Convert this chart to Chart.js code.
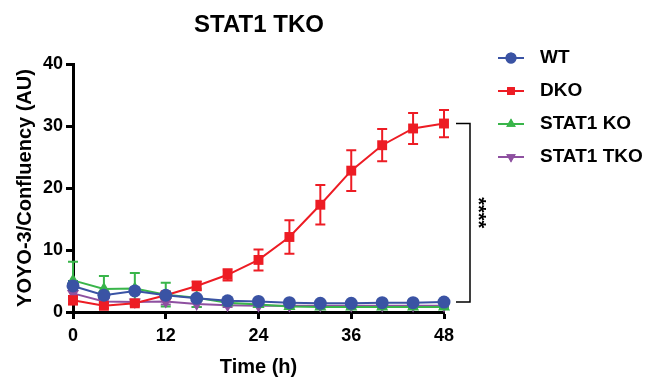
<!DOCTYPE html>
<html>
<head>
<meta charset="utf-8">
<script src="https://cdn.jsdelivr.net/npm/chart.js@4/dist/chart.umd.min.js"></script>
<style>
html,body{margin:0;padding:0;background:#fff;}
#wrap{width:652px;height:377px;position:relative;}
</style>
</head>
<body>
<div id="wrap"><canvas id="c" width="652" height="377"></canvas></div>
<script>
// ---- data ----
const timePoints = [0, 4, 8, 12, 16, 20, 24, 28, 32, 36, 40, 44, 48];
const wtMean      = [4.2, 2.7, 3.4, 2.7, 2.2, 1.8, 1.7, 1.5, 1.4, 1.4, 1.5, 1.5, 1.6];
const wtSD        = [0.8, 0.4, 0.5, 0.5, 0.3, 0.2, 0.2, 0.2, 0.2, 0.2, 0.2, 0.2, 0.2];
const dkoMean     = [1.9, 1.0, 1.4, 2.7, 4.2, 6.0, 8.4, 12.1, 17.3, 22.8, 26.9, 29.6, 30.4];
const dkoSD       = [0.7, 0.4, 0.4, 0.5, 0.7, 0.9, 1.7, 2.7, 3.2, 3.3, 2.6, 2.5, 2.2];
const ko1Mean     = [5.1, 3.7, 3.8, 2.8, 2.3, 1.5, 1.2, 0.9, 0.8, 0.8, 0.8, 0.8, 0.8];
const ko1SD       = [3.0, 2.1, 2.5, 1.9, 1.5, 0.3, 0.2, 0.2, 0.2, 0.2, 0.2, 0.2, 0.2];
const tkoMean     = [3.0, 1.7, 1.6, 1.7, 1.3, 1.1, 1.0, 1.0, 1.0, 1.0, 1.0, 1.0, 1.0];
const tkoSD       = [0.6, 0.3, 0.3, 0.5, 0.5, 0.3, 0.2, 0.2, 0.2, 0.2, 0.2, 0.2, 0.2];
const seriesNames = ['WT', 'DKO', 'STAT1 KO', 'STAT1 TKO'];
const xTicks = [0, 12, 24, 36, 48];
const yTicks = [0, 10, 20, 30, 40];
const chartTitle = 'STAT1 TKO';
const yTitle = 'YOYO-3/Confluency (AU)';
const xTitle = 'Time (h)';
const significance = '****';

const colors = ['#3A53A4', '#ED1C24', '#39B54A', '#8E50A0'];
const shapes = ['circle', 'rect', 'triangle', 'triangle'];
const rotations = [0, 0, 0, 180];
const means = [wtMean, dkoMean, ko1Mean, tkoMean];
const sds = [wtSD, dkoSD, ko1SD, tkoSD];
const radii = [6.5, 7, 7, 7];

const FONT = '"Liberation Sans", Arial, sans-serif';

const datasets = seriesNames.map((name, i) => ({
  label: name,
  data: timePoints.map((t, j) => ({x: t, y: means[i][j]})),
  sd: sds[i],
  borderColor: colors[i],
  backgroundColor: colors[i],
  pointBackgroundColor: colors[i],
  pointBorderColor: colors[i],
  pointStyle: shapes[i],
  rotation: rotations[i],
  pointRadius: radii[i],
  pointBorderWidth: 0,
  borderWidth: 2,
  tension: 0,
  clip: false
}));

const errorBars = {
  id: 'errorBars',
  beforeDatasetsDraw(chart) {
    const ctx = chart.ctx, xs = chart.scales.x, ys = chart.scales.y;
    for (let i = chart.data.datasets.length - 1; i >= 0; i--) {
      const ds = chart.data.datasets[i];
      ctx.save();
      ctx.strokeStyle = ds.borderColor;
      ctx.lineWidth = 2;
      ds.data.forEach((p, j) => {
        const sd = ds.sd[j];
        const x = xs.getPixelForValue(p.x);
        const yt = ys.getPixelForValue(p.y + sd);
        const yb = ys.getPixelForValue(Math.max(0, p.y - sd));
        const cw = 5;
        ctx.beginPath();
        ctx.moveTo(x, yt); ctx.lineTo(x, yb);
        ctx.moveTo(x - cw, yt); ctx.lineTo(x + cw, yt);
        ctx.moveTo(x - cw, yb); ctx.lineTo(x + cw, yb);
        ctx.stroke();
      });
      ctx.restore();
    }
  }
};

const extras = {
  id: 'extras',
  afterDraw(chart) {
    const ctx = chart.ctx, xs = chart.scales.x, ys = chart.scales.y;
    ctx.save();
    // title
    ctx.fillStyle = '#000';
    ctx.font = 'bold 24px ' + FONT;
    ctx.textAlign = 'center';
    ctx.textBaseline = 'middle';
    ctx.fillText(chartTitle, 259, 25);
    // bracket
    const last = timePoints.length - 1;
    const xEnd = xs.getPixelForValue(timePoints[last]);
    const yTop = ys.getPixelForValue(dkoMean[last]);
    const yBot = ys.getPixelForValue(wtMean[last]);
    const bx = xEnd + 26;
    ctx.strokeStyle = '#000';
    ctx.lineWidth = 1.5;
    ctx.beginPath();
    ctx.moveTo(xEnd + 12, yTop); ctx.lineTo(bx, yTop); ctx.lineTo(bx, yBot); ctx.lineTo(xEnd + 12, yBot);
    ctx.stroke();
    ctx.save();
    ctx.translate(bx + 8, (yTop + yBot) / 2);
    ctx.rotate(Math.PI / 2);
    ctx.font = 'bold 20px ' + FONT;
    ctx.textAlign = 'center';
    ctx.textBaseline = 'middle';
    ctx.fillText(significance, 0, 0);
    ctx.restore();
    // legend
    const ly = [58, 91, 124, 157];
    chart.data.datasets.forEach((ds, i) => {
      const y = ly[i];
      ctx.strokeStyle = ds.borderColor;
      ctx.lineWidth = 2;
      ctx.beginPath();
      ctx.moveTo(498, y); ctx.lineTo(524, y);
      ctx.stroke();
      ctx.fillStyle = ds.borderColor;
      Chart.helpers.drawPoint(ctx, {pointStyle: ds.pointStyle, rotation: ds.rotation, radius: 5.5, borderWidth: 0}, 511, y);
      ctx.fill();
      ctx.fillStyle = '#000';
      ctx.font = 'bold 19px ' + FONT;
      ctx.textAlign = 'left';
      ctx.textBaseline = 'middle';
      ctx.fillText(ds.label, 540, y);
    });
    ctx.restore();
  }
};

new Chart(document.getElementById('c'), {
  type: 'line',
  data: { datasets },
  options: {
    responsive: false,
    animation: false,
    events: [],
    layout: { padding: { top: 64, right: 208, left: 0, bottom: 0 }, autoPadding: false },
    plugins: { legend: { display: false }, title: { display: false }, tooltip: { enabled: false } },
    scales: {
      x: {
        type: 'linear', min: 0, max: 48,
        afterBuildTicks: s => { s.ticks = xTicks.map(v => ({value: v})); },
        afterFit: s => { s.height = 65; },
        ticks: { color: '#000', font: { family: FONT, size: 18, weight: 'bold' }, padding: 6, maxRotation: 0 },
        grid: { drawOnChartArea: false, drawTicks: true, tickLength: 7, tickWidth: 3, tickColor: '#000' },
        border: { display: true, width: 3, color: '#000' },
        title: { display: true, text: xTitle, color: '#000', font: { family: FONT, size: 20, weight: 'bold', lineHeight: 1 }, padding: { top: 0, bottom: 0 } }
      },
      y: {
        type: 'linear', min: 0, max: 40,
        afterBuildTicks: s => { s.ticks = yTicks.map(v => ({value: v})); },
        afterFit: s => { s.width = 73; },
        ticks: { color: '#000', font: { family: FONT, size: 18, weight: 'bold' }, padding: 3 },
        grid: { drawOnChartArea: false, drawTicks: true, tickLength: 7, tickWidth: 3, tickColor: '#000' },
        border: { display: true, width: 3, color: '#000' },
        title: { display: true, text: yTitle, color: '#000', font: { family: FONT, size: 20, weight: 'bold', lineHeight: 1 }, padding: { top: 15, bottom: 0 } }
      }
    }
  },
  plugins: [errorBars, extras]
});
</script>
</body>
</html>
